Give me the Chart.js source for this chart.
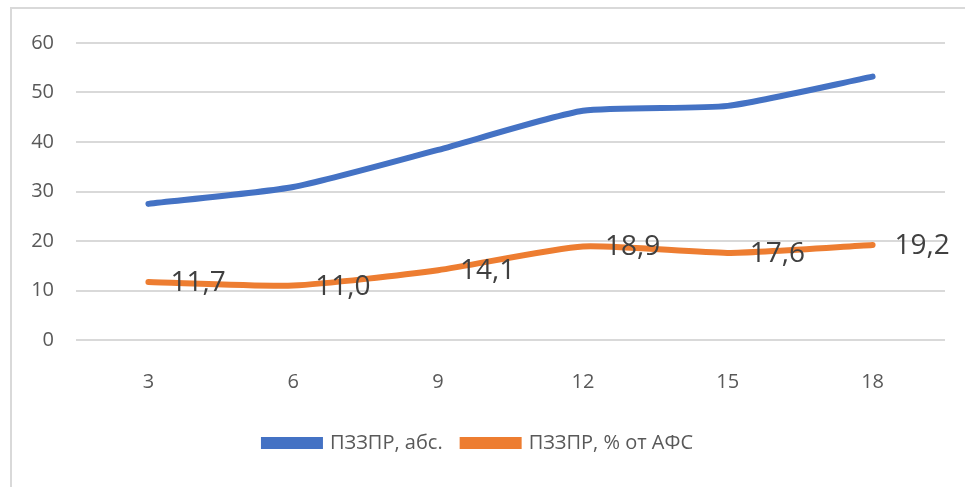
<!DOCTYPE html>
<html>
<head>
<meta charset="utf-8">
<script src="https://cdn.jsdelivr.net/npm/chart.js@4"></script>
<style>
  body { margin: 0; background: #fff; }
  #box {
    position: absolute; left: 10px; top: 7px;
    width: 953px; height: 478px;
    border: 2px solid #d9d9d9; border-right: none; border-bottom: none;
  }
</style>
</head>
<body>
<div id="box"><canvas id="chart"></canvas></div>
<script>
const months = ['3', '6', '9', '12', '15', '18'];
const absValues = [27.5, 30.9, 38.4, 46.3, 47.3, 53.2];
const pctValues = [11.7, 11.0, 14.1, 18.9, 17.6, 19.2];
const yTicks = [0, 10, 20, 30, 40, 50, 60];

const fontFamily = "'Open Sans', Arial, sans-serif";

// value labels to the right of the orange points
const valueLabels = {
  id: 'valueLabels',
  afterDatasetsDraw(chart) {
    const ctx = chart.ctx;
    const meta = chart.getDatasetMeta(1);
    ctx.save();
    ctx.font = '28px ' + fontFamily;
    ctx.fillStyle = '#404040';
    ctx.textAlign = 'left';
    ctx.textBaseline = 'middle';
    meta.data.forEach((pt, i) => {
      const txt = pctValues[i].toFixed(1).replace('.', ',');
      ctx.fillText(txt, pt.x + 22, pt.y + 1);
    });
    ctx.restore();
  }
};

const ctx = document.getElementById('chart').getContext('2d');
const chart = new Chart(ctx, {
  type: 'line',
  data: {
    labels: months,
    datasets: [
      {
        label: 'ПЗЗПР, абс.',
        data: absValues,
        borderColor: '#4472C4',
        backgroundColor: '#4472C4',
        borderWidth: 6,
        pointRadius: 0,
        tension: 0.2,
        borderCapStyle: 'round'
      },
      {
        label: 'ПЗЗПР, % от АФС',
        data: pctValues,
        borderColor: '#ED7D31',
        backgroundColor: '#ED7D31',
        borderWidth: 6,
        pointRadius: 0,
        tension: 0.2,
        borderCapStyle: 'round'
      }
    ]
  },
  options: {
    responsive: true,
    maintainAspectRatio: false,
    animation: false,
    layout: { padding: { top: 33, right: 20, bottom: 24, left: 0 } },
    plugins: {
      tooltip: { enabled: false },
      legend: {
        position: 'bottom',
        labels: {
          boxWidth: 56,
          boxHeight: 6,
          padding: 20,
          color: '#595959',
          font: { family: fontFamily, size: 20 }
        }
      }
    },
    scales: {
      x: {
        offset: true,
        afterFit: axis => { axis.height -= 11; },
        grid: { display: false, drawTicks: false },
        border: { display: false },
        ticks: { color: '#595959', padding: 30, font: { family: fontFamily, size: 20 } }
      },
      y: {
        min: 0,
        max: 60,
        afterBuildTicks: axis => { axis.ticks = yTicks.map(v => ({ value: v })); },
        afterFit: axis => { axis.width = 64; },
        grid: { color: '#d9d9d9', lineWidth: 2, drawTicks: false },
        border: { display: false },
        ticks: { color: '#595959', padding: 22, font: { family: fontFamily, size: 20 } }
      }
    }
  },
  plugins: [valueLabels]
});
</script>
</body>
</html>
